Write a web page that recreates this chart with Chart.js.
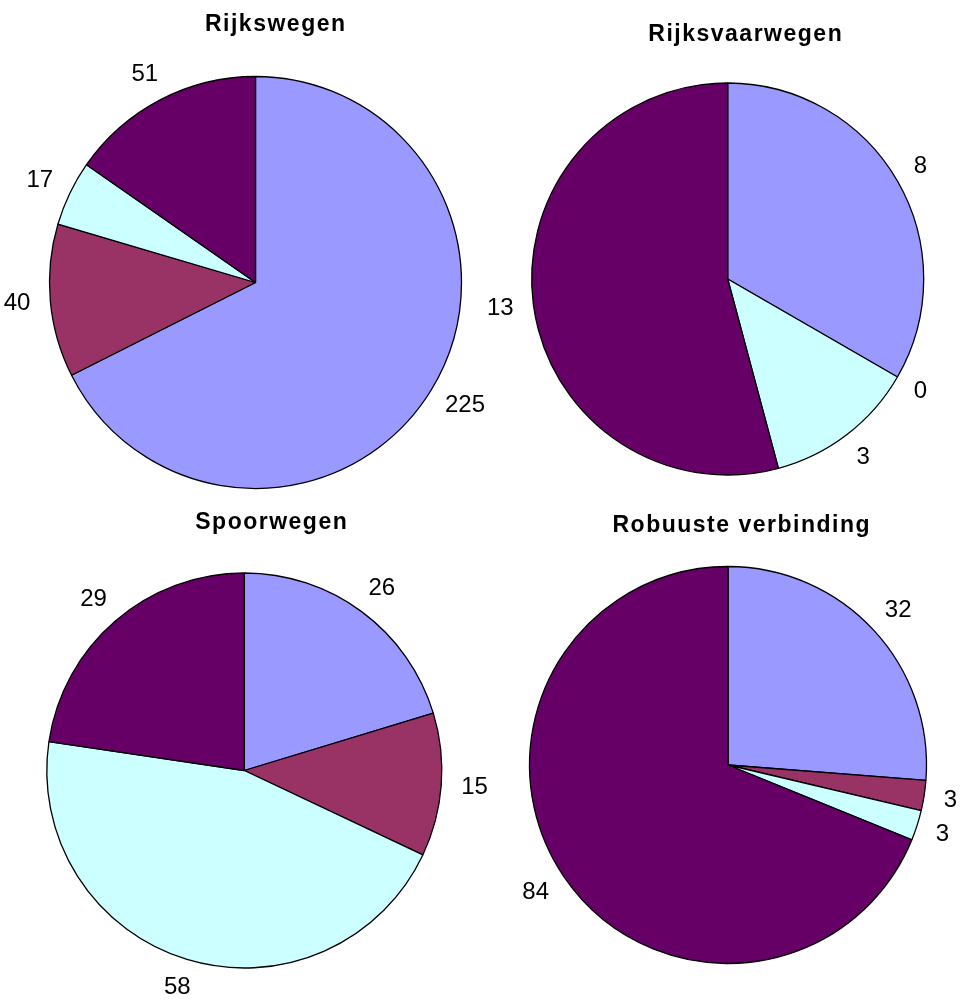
<!DOCTYPE html>
<html>
<head>
<meta charset="utf-8">
<script src="https://cdn.jsdelivr.net/npm/chart.js@4.4.0/dist/chart.umd.min.js"></script>
<style>
  html, body { margin: 0; padding: 0; background: #fff; }
  #wrap { position: relative; width: 977px; height: 1001px; overflow: hidden; }
  #wrap canvas { position: absolute; left: 0; top: 0; }
</style>
</head>
<body>
<div id="wrap">
  <canvas id="c0" width="977" height="1001"></canvas>
  <canvas id="c1" width="977" height="1001"></canvas>
  <canvas id="c2" width="977" height="1001"></canvas>
  <canvas id="c3" width="977" height="1001"></canvas>
</div>
<script>
// data
const categories = ['Categorie 1', 'Categorie 2', 'Categorie 3', 'Categorie 4'];
const chartTitles = ['Rijkswegen', 'Rijksvaarwegen', 'Spoorwegen', 'Robuuste verbinding'];
const rijkswegen = [225, 40, 17, 51];
const rijksvaarwegen = [8, 0, 3, 13];
const spoorwegen = [26, 15, 58, 29];
const robuusteVerbinding = [32, 3, 3, 84];
const seriesValues = [rijkswegen, rijksvaarwegen, spoorwegen, robuusteVerbinding];

const sliceColors = ['#9999FF', '#993366', '#CCFFFF', '#660066'];

// where each pie sits on the page (centre, radius) and where its title goes
const panels = [
    { cx: 255.5, cy: 282.5, r: 206, tx: 275, ty: 25 },
    { cx: 727.7, cy: 279, r: 196, tx: 745, ty: 35 },
    { cx: 244.3, cy: 770.5, r: 197.5, tx: 271, ty: 523 },
    { cx: 728, cy: 765, r: 198.5, tx: 741, ty: 525.5 }
];
const W = 977, H = 1001;

// draws the value labels just outside each slice, plus the chart title
const outsideLabels = {
    id: 'outsideLabels',
    afterDraw(chart, args, opts) {
        const ctx = chart.ctx;
        const meta = chart.getDatasetMeta(0);
        const values = chart.data.datasets[0].data;
        ctx.save();
        ctx.fillStyle = '#000';
        ctx.textAlign = 'center';
        ctx.textBaseline = 'middle';
        ctx.font = '24px "Liberation Sans", Arial, sans-serif';
        meta.data.forEach((arc, i) => {
            const p = arc.getProps(['x', 'y', 'startAngle', 'endAngle', 'outerRadius'], true);
            const mid = (p.startAngle + p.endAngle) / 2;
            const cos = Math.cos(mid), sin = Math.sin(mid);
            const text = String(values[i]);
            const hw = ctx.measureText(text).width / 2;
            const d = p.outerRadius + opts.gap;
            ctx.fillText(text, p.x + d * cos + hw * cos, p.y + d * sin + 9 * sin);
        });
        ctx.font = 'bold 23px "Liberation Sans", Arial, sans-serif';
        ctx.letterSpacing = '1.5px';
        ctx.fillText(opts.title, opts.tx + 0.75, opts.ty);
        ctx.restore();
    }
};

seriesValues.forEach((values, i) => {
    const p = panels[i];
    new Chart(document.getElementById('c' + i), {
        type: 'pie',
        data: {
            labels: categories,
            datasets: [{
                data: values,
                backgroundColor: sliceColors,
                borderColor: '#000',
                borderWidth: 1.3
            }]
        },
        options: {
            responsive: false,
            animation: false,
            events: [],
            radius: p.r,
            layout: {
                padding: {
                    left: p.cx - p.r - 5,
                    right: W - (p.cx + p.r + 5),
                    top: p.cy - p.r - 5,
                    bottom: H - (p.cy + p.r + 5)
                }
            },
            plugins: {
                legend: { display: false },
                tooltip: { enabled: false },
                title: { display: false },
                outsideLabels: { gap: 20, title: chartTitles[i], tx: p.tx, ty: p.ty }
            }
        },
        plugins: [outsideLabels]
    });
});
</script>
</body>
</html>
